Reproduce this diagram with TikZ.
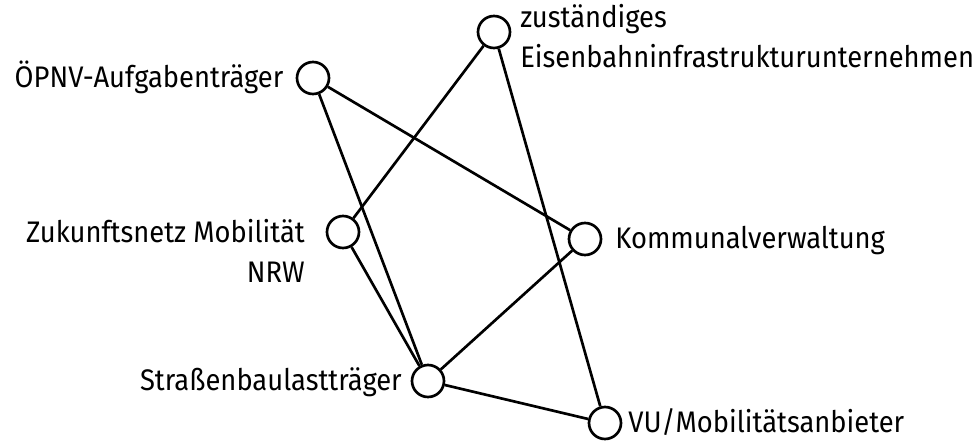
\documentclass[tikz,border=0pt]{standalone}
\usepackage{fontspec}
\setmainfont{Fira Sans}[FakeStretch=0.92]
\usetikzlibrary{positioning}

\begin{document}
\begin{tikzpicture}[x=0.75pt,y=-0.75pt,
  actor/.style={circle,draw=black,line width=2pt,fill=white,minimum size=24pt,inner sep=0pt},
  lbl/.style={font=\fontsize{22.3}{29.5}\selectfont,inner sep=0pt},
  link/.style={draw=black,line width=2pt}]
  \useasboundingbox (0,0) rectangle (973,442);
  % actors
  \node[actor] (opnv) at (313,78) {};
  \node[actor] (eiu) at (494,32) {};
  \node[actor] (zmn) at (343,232) {};
  \node[actor] (komm) at (585,239) {};
  \node[actor] (sbt) at (428,381) {};
  \node[actor] (vu) at (605,423) {};

  % labels
  \node[lbl,left=9pt of opnv,anchor=base east,yshift=-7pt] (opnvL) {ÖPNV-Aufgabenträger};
  \node[lbl,right=6.5pt of eiu,anchor=base west,yshift=-26.3pt,align=left] (eiuL) {zuständiges\\Eisenbahninfrastrukturunternehmen};
  \node[lbl,left=15.5pt of zmn,anchor=base east,yshift=-37.5pt,align=right] (zmnL) {Zukunftsnetz Mobilität\\NRW};
  \node[lbl,right=9.5pt of komm,anchor=base west,yshift=-7pt] (kommL) {Kommunalverwaltung};
  \node[lbl,left=6.5pt of sbt,anchor=base east,yshift=-7pt] (sbtL) {Straßenbaulastträger};
  \node[lbl,right=4.3pt of vu,anchor=base west,yshift=-7pt] (vuL) {VU/Mobilitätsanbieter};

  % links
  \draw[link] (opnv) -- (komm);
  \draw[link] (opnv) -- (sbt);
  \draw[link] (eiu) -- (zmn);
  \draw[link] (eiu) -- (vu);
  \draw[link] (zmn) -- (sbt);
  \draw[link] (komm) -- (sbt);
  \draw[link] (sbt) -- (vu);
\end{tikzpicture}
\end{document}
